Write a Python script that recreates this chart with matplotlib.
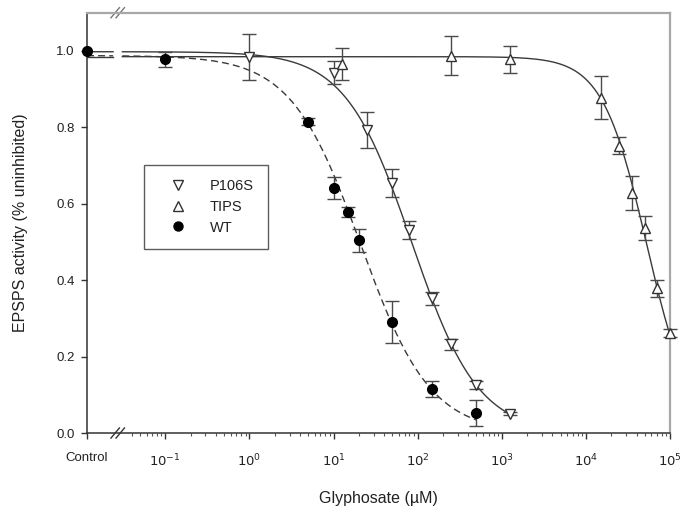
import numpy as np
import matplotlib
matplotlib.use("Agg")
import matplotlib.pyplot as plt
from matplotlib.lines import Line2D

plt.rcParams['font.family'] = ['Liberation Sans', 'DejaVu Sans']

# ---------------- data ----------------
wt_x   = [0.1, 5, 10, 15, 20, 50, 150, 500]
wt_y   = [0.978, 0.815, 0.642, 0.579, 0.505, 0.290, 0.115, 0.052]
wt_err = [0.020, 0.010, 0.029, 0.013, 0.030, 0.055, 0.021, 0.034]
wt_control = 1.00

p106s_x   = [1, 10, 25, 50, 80, 150, 250, 500, 1250]
p106s_y   = [0.985, 0.943, 0.792, 0.655, 0.532, 0.353, 0.232, 0.125, 0.051]
p106s_err = [0.060, 0.030, 0.047, 0.037, 0.024, 0.017, 0.015, 0.010, 0.005]

tips_x   = [12.5, 250, 1250, 15000, 25000, 35000, 50000, 70000, 100000]
tips_y   = [0.965, 0.987, 0.978, 0.878, 0.752, 0.628, 0.536, 0.379, 0.261]
tips_err = [0.042, 0.051, 0.036, 0.057, 0.022, 0.044, 0.032, 0.022, 0.010]

# fitted dose-response parameters (top, IC50, Hill slope, last x of curve)
wt_fit    = dict(top=0.988, ic50=21.0, hill=1.05, xend=500)
p106s_fit = dict(top=0.998, ic50=85.0, hill=1.10, xend=1250)
tips_fit  = dict(top=0.985, ic50=53000.0, hill=1.65, xend=100000)

tick_labels = ['Control', '$10^{-1}$', '$10^{0}$', '$10^{1}$', '$10^{2}$',
               '$10^{3}$', '$10^{4}$', '$10^{5}$']

# ---------------- layout constants ----------------
CONTROL_X = 10 ** -1.93
BREAK_L = 10 ** -1.62
BREAK_R = 10 ** -1.51

fig = plt.figure(figsize=(6.83, 5.09), dpi=100)
ax = fig.add_axes([0.1274, 0.1493, 0.981 - 0.1274, 0.975 - 0.1493])
ax.set_xscale('log')
ax.set_xlim(CONTROL_X, 1e5)
ax.set_ylim(0, 1.1)


def logistic(x, p):
    x = np.asarray(x, dtype=float)
    return p['top'] / (1.0 + (x / p['ic50']) ** p['hill'])


def draw_curve(p, **kw):
    seg1 = np.logspace(np.log10(CONTROL_X), np.log10(BREAK_L), 20)
    seg2 = np.logspace(np.log10(BREAK_R), np.log10(p['xend']), 400)
    ax.plot(seg1, logistic(seg1, p), clip_on=False, **kw)
    ax.plot(seg2, logistic(seg2, p), clip_on=False, **kw)


lc = '#3a3a3a'
draw_curve(tips_fit, color=lc, lw=1.0)
draw_curve(p106s_fit, color=lc, lw=1.0)
draw_curve(wt_fit, color=lc, lw=1.0, dashes=(5, 3))

ekw = dict(ecolor='#4a4a4a', elinewidth=1.0, capsize=5, capthick=1.0,
           ls='none', clip_on=False)
ax.errorbar(p106s_x, p106s_y, yerr=p106s_err, fmt='v', ms=7,
            mfc='white', mec='#333333', mew=1.0, zorder=3, **ekw)
ax.errorbar(tips_x, tips_y, yerr=tips_err, fmt='^', ms=7,
            mfc='white', mec='#333333', mew=1.0, zorder=3, **ekw)
ax.errorbar(wt_x, wt_y, yerr=wt_err, fmt='o', ms=7,
            mfc='black', mec='black', zorder=4, **ekw)
ax.plot([CONTROL_X], [wt_control], 'o', ms=7, color='black', clip_on=False, zorder=5)

# ticks
major = [CONTROL_X] + [10.0 ** k for k in range(-1, 6)]
ax.set_xticks(major)
ax.set_xticklabels(tick_labels)
minor = [m * 10.0 ** k for k in range(-2, 5) for m in range(2, 10)
         if m * 10.0 ** k > 10 ** -1.45]
ax.set_xticks(minor, minor=True)
ax.xaxis.set_minor_formatter(plt.NullFormatter())
ax.set_yticks([0.0, 0.2, 0.4, 0.6, 0.8, 1.0])
ax.set_yticklabels(['0.0', '0.2', '0.4', '0.6', '0.8', '1.0'])
ax.tick_params(axis='both', which='major', direction='out', length=4,
               width=1, colors='#333333', labelsize=9.5, labelcolor='#222222')
ax.tick_params(axis='x', which='minor', direction='out', length=2.5,
               width=0.8, colors='#555555')
ax.tick_params(axis='x', which='major', pad=10)
ax.tick_params(axis='y', which='major', pad=5)

for s in ['left', 'bottom']:
    ax.spines[s].set_color('#333333')
    ax.spines[s].set_linewidth(1.1)
for s in ['top', 'right']:
    ax.spines[s].set_color('#a8a8a8')
    ax.spines[s].set_linewidth(1.6)

# break marks
for yy, col in [(0.0, '#333333'), (1.0, '#777777')]:
    for dx in (-0.03, 0.03):
        xa = np.log10(10 ** -1.565) + dx
        xs = [10 ** (xa - 0.05), 10 ** (xa + 0.05)]
        ax.plot(xs, [yy - 0.012, yy + 0.012], transform=ax.get_xaxis_transform(),
                color=col, lw=1.0, clip_on=False)

ax.set_xlabel('Glyphosate (\u00b5M)', fontsize=11.5, color='#222222', labelpad=16)
ax.set_ylabel('EPSPS activity (% uninhibited)', fontsize=11.5, color='#222222',
              labelpad=20)

handles = [
    Line2D([], [], ls='none', marker='v', ms=6.5, mfc='white', mec='#333333'),
    Line2D([], [], ls='none', marker='^', ms=6.5, mfc='white', mec='#333333'),
    Line2D([], [], ls='none', marker='o', ms=6.5, mfc='black', mec='black'),
]
leg = ax.legend(handles, ['P106S', 'TIPS', 'WT'], loc='upper left',
                bbox_to_anchor=(0.098, 0.638), frameon=True, fancybox=False,
                fontsize=10.5, handletextpad=0.9, borderpad=1.0, labelspacing=0.45,
                handlelength=2.6, borderaxespad=0)
leg.get_frame().set_edgecolor('#333333')
leg.get_frame().set_linewidth(1.0)
for t in leg.get_texts():
    t.set_color('#222222')

fig.savefig('out.png', dpi=100)
